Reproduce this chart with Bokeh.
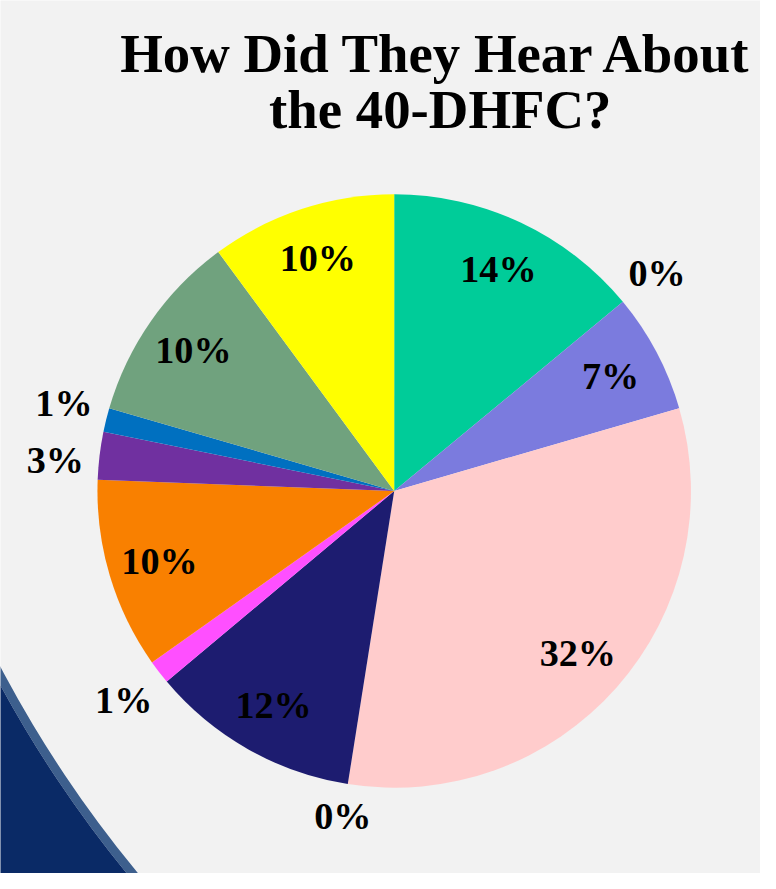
import numpy as np
from bokeh.plotting import figure
from bokeh.models import Range1d, ColumnDataSource
from bokeh.core.properties import value
from bokeh.embed import file_html
from bokeh.resources import INLINE

# ---- data (percent of respondents, clockwise from 12 o'clock) ----
categories = ["Source 1", "Source 2", "Source 3", "Source 4", "Source 5", "Source 6",
              "Source 7", "Source 8", "Source 9", "Source 10", "Source 11", "Source 12"]
values = [14.0, 0.0, 6.5, 32.0, 0.0, 11.4, 1.3, 10.4, 2.6, 1.3, 10.4, 10.1]
labels = ["14%", "0%", "7%", "32%", "0%", "12%", "1%", "10%", "3%", "1%", "10%", "10%"]
colors = ["#00CC99", "#7B7BDE", "#7B7BDE", "#FFCCCC", "#1D1C70", "#1D1C70",
          "#FF4FFF", "#F98000", "#7030A0", "#0070C0", "#70A27E", "#FFFF00"]
title_lines = ["How Did They Hear About", "the 40-DHFC?"]

# ---- layout constants (in reference pixel units) ----
W, H = 776, 889
PW, PH = 760, 873
SC = PW / W
cx, cy = 402, H - 499.5
R = 303
R_IN = 250
LBL_PX = 39
GAP = 14
label_nudge = [0, 0, 0, 0, 0, 0, 0, 0, -1.6, 1.0, 0, 0]  # degrees, outer label overlap

p = figure(width=PW, height=PH, x_range=Range1d(0, W), y_range=Range1d(0, H),
           output_backend="svg", toolbar_location=None,
           x_axis_type=None, y_axis_type=None, min_border=0)
p.outline_line_color = None
p.background_fill_color = "#F2F2F2"
p.border_fill_color = "#F2F2F2"

# decorative slide background (bottom-left arc)
bx, by = 1088, H - 107
p.annulus(x=bx, y=by, inner_radius=1230, outer_radius=1239,
          fill_color="#3D5F8D", line_color=None)
p.annulus(x=bx, y=by, inner_radius=1239, outer_radius=2300,
          fill_color="#0A2A66", line_color=None)

vals = np.array(values, dtype=float)
frac = vals / vals.sum() * 360.0
cum_end = np.cumsum(frac)
cum_start = cum_end - frac
mask = vals > 0

src = ColumnDataSource(dict(
    start=np.radians(90 - cum_end)[mask],
    end=np.radians(90 - cum_start)[mask],
    color=np.array(colors)[mask],
    cat=np.array(categories)[mask],
))
p.wedge(x=cx, y=cy, radius=R, start_angle="start", end_angle="end",
        direction="anticlock", fill_color="color",
        line_color=None, source=src)

mid = np.radians(cum_start + frac / 2 + np.array(label_nudge))
hw = np.array([0.375 * LBL_PX * len(s) for s in labels])
hh = 14.0
r_out = R + GAP + np.abs(hw * np.sin(mid)) + np.abs(hh * np.cos(mid))
rl = np.where(vals < 5, r_out, R_IN)
lx = cx + rl * np.sin(mid)
ly = cy + rl * np.cos(mid)
p.text(x=lx, y=ly, text=labels, text_font=value("Liberation Serif"),
       text_font_style="bold", text_font_size=f"{LBL_PX * SC:.1f}px",
       text_align="center", text_baseline="middle", text_color="#000000")

p.text(x=[445.5, 449], y=[H - 53.5, H - 111.5], text=title_lines,
       text_font=value("Liberation Serif"), text_font_style="bold",
       text_font_size=f"{56 * SC:.1f}px", text_align="center",
       text_baseline="middle", text_color="#000000")

open("out.html", "w").write(file_html(p, INLINE))
